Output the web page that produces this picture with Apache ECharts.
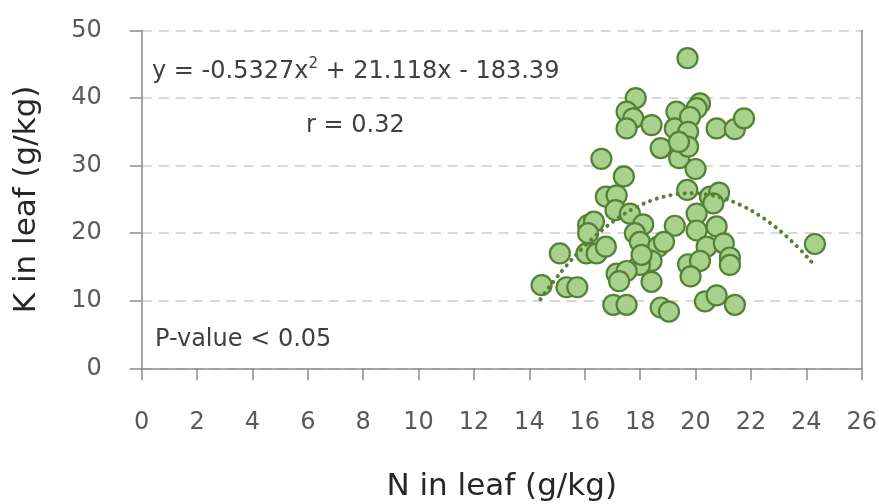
<!DOCTYPE html>
<html>
<head>
<meta charset="utf-8">
<title>K vs N in leaf</title>
<script src="https://cdn.jsdelivr.net/npm/echarts@6/dist/echarts.min.js"></script>
<style>
  html, body { margin: 0; padding: 0; background: #ffffff; }
  #chart { width: 879px; height: 504px; }
</style>
</head>
<body>
<div id="chart"></div>
<script>
// Leaf nitrogen (g/kg) of each sample
const nLeaf = [
  19.71, 17.84, 17.51, 17.75, 17.51, 18.41, 19.31, 19.25, 20.16, 20.04,
  19.80, 19.73, 20.76, 21.42, 21.75, 18.74, 19.41, 19.73, 19.40, 16.60,
  17.41, 20.00, 16.76, 17.15, 17.11, 17.63, 19.70, 20.52, 20.85, 20.64,
  20.04, 19.25, 18.11, 20.04, 20.76, 16.12, 16.33, 16.12, 17.81, 20.40,
  21.02, 21.24, 21.24, 15.10, 16.06, 16.43, 16.76, 17.99, 18.65, 18.86,
  18.41, 17.99, 18.05, 17.15, 17.51, 17.24, 18.41, 19.73, 20.16, 19.82,
  14.44, 15.34, 15.73, 17.03, 17.51, 18.74, 19.04, 20.34, 20.76, 21.42,
  24.31
];
// Leaf potassium (g/kg) of each sample
const kLeaf = [
  45.9, 40.0, 38.0, 37.0, 35.5, 36.0, 38.0, 35.5, 39.2, 38.5,
  37.2, 35.0, 35.5, 35.4, 37.0, 32.6, 31.1, 32.8, 33.5, 31.0,
  28.4, 29.5, 25.4, 25.6, 23.4, 22.9, 26.4, 25.4, 26.0, 24.4,
  22.9, 21.1, 21.3, 20.4, 21.0, 21.2, 21.7, 20.0, 20.0, 18.0,
  18.5, 16.4, 15.3, 17.0, 17.0, 17.0, 18.0, 18.7, 18.0, 18.7,
  15.9, 15.3, 16.8, 14.0, 14.4, 12.9, 12.8, 15.4, 15.9, 13.6,
  12.3, 12.0, 12.0, 9.4, 9.4, 9.0, 8.4, 9.9, 10.8, 9.4,
  18.4
];
// Polynomial trendline y = a*x^2 + b*x + c, drawn over the observed N range
const trendCoef = [-0.5327, 21.118, -183.39];
const trendRange = [14.4, 24.3];

const xTicks = { min: 0, max: 26, interval: 2 };
const yTicks = { min: 0, max: 50, interval: 10 };

const points = nLeaf.map((n, i) => [n, kLeaf[i]]);
const trend = [];
for (let i = 0; i <= 99; i++) {
  const x = trendRange[0] + (trendRange[1] - trendRange[0]) * i / 99;
  trend.push([x, trendCoef[0] * x * x + trendCoef[1] * x + trendCoef[2]]);
}

const FONT = 'DejaVu Sans';
const axisGray = '#8c8c8c';
const labelColor = '#595959';
const textColor = '#404040';

const chart = echarts.init(document.getElementById('chart'), null, { renderer: 'canvas' });
chart.setOption({
  animation: false,
  backgroundColor: '#ffffff',
  grid: {
    left: 141.7, right: 17.3, top: 30.5, bottom: 135.7,
    containLabel: false,
    outerBoundsMode: 'none'
  },
  xAxis: {
    type: 'value',
    min: xTicks.min, max: xTicks.max, interval: xTicks.interval,
    name: 'N in leaf (g/kg)',
    nameLocation: 'middle',
    nameGap: 103,
    nameTextStyle: { fontFamily: FONT, fontSize: 31, color: '#262626' },
    axisLine: { show: true, onZero: false, lineStyle: { color: axisGray, width: 1.5 } },
    axisTick: { show: true, inside: false, length: 12, lineStyle: { color: axisGray, width: 1.5 } },
    axisLabel: { margin: 42, fontFamily: FONT, fontSize: 24, color: labelColor },
    splitLine: { show: false }
  },
  yAxis: [{
    type: 'value',
    min: yTicks.min, max: yTicks.max, interval: yTicks.interval,
    name: 'K in leaf (g/kg)',
    nameLocation: 'middle',
    nameGap: 99,
    nameRotate: 90,
    nameTextStyle: { fontFamily: FONT, fontSize: 31, color: '#262626' },
    axisLine: { show: true, lineStyle: { color: axisGray, width: 1.5 } },
    axisTick: { show: true, inside: false, length: 12, lineStyle: { color: axisGray, width: 1.5 } },
    axisLabel: { margin: 40, fontFamily: FONT, fontSize: 24, color: labelColor },
    splitLine: { show: true, lineStyle: { color: '#d9d9d9', width: 2, type: [10, 7] } }
  }, {
    type: 'value',
    position: 'right',
    min: yTicks.min, max: yTicks.max, interval: yTicks.interval,
    axisLine: { show: true, lineStyle: { color: axisGray, width: 1.5 } },
    axisTick: { show: false },
    axisLabel: { show: false },
    splitLine: { show: false }
  }],
  series: [{
    type: 'scatter',
    data: points,
    symbol: 'circle',
    symbolSize: 20,
    itemStyle: { color: '#a9d18e', borderColor: '#548235', borderWidth: 2.2, opacity: 1 },
    z: 2
  }, {
    type: 'line',
    data: trend,
    showSymbol: false,
    symbol: 'none',
    smooth: true,
    lineStyle: { color: '#548235', width: 4, type: [0.1, 7], cap: 'round' },
    z: 3
  }],
  graphic: [{
    type: 'text',
    x: 152, y: 72,
    style: {
      text: 'y = -0.5327x{sup|2} + 21.118x - 183.39',
      fontFamily: FONT, fontSize: 24, fill: textColor,
      verticalAlign: 'middle',
      rich: {
        sup: { fontFamily: FONT, fontSize: 15, fill: textColor, verticalAlign: 'top', lineHeight: 30 }
      }
    }
  }, {
    type: 'text',
    x: 306, y: 126,
    style: { text: 'r = 0.32', fontFamily: FONT, fontSize: 24, fill: textColor, verticalAlign: 'middle' }
  }, {
    type: 'text',
    x: 155, y: 340,
    style: { text: 'P-value < 0.05', fontFamily: FONT, fontSize: 24, fill: textColor, verticalAlign: 'middle' }
  }]
});
</script>
</body>
</html>
